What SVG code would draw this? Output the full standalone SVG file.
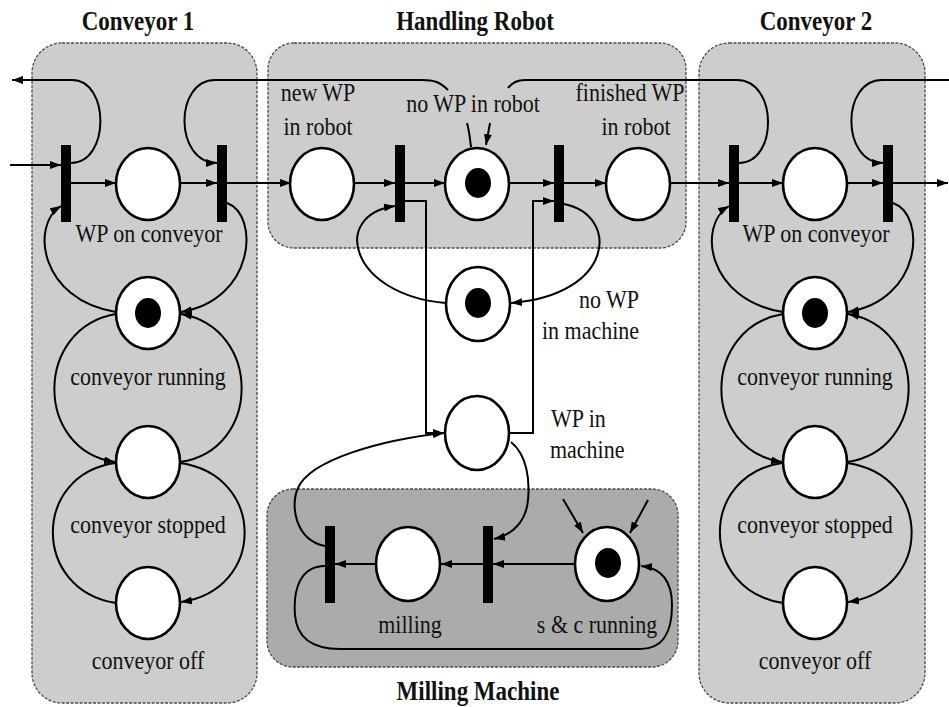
<svg xmlns="http://www.w3.org/2000/svg" width="949" height="707" viewBox="0 0 949 707">
<defs>
<marker id="ah" viewBox="0 0 11 8" refX="11" refY="4" markerWidth="11" markerHeight="8" markerUnits="userSpaceOnUse" orient="auto">
<path d="M0,0 L11,4 L0,8 z" fill="#000"/>
</marker>
<style>
.box{fill:#cdcdcd;stroke:#4a4a4a;stroke-width:1.3;stroke-dasharray:3 1.5}
.mbox{fill:#ababab;stroke:#4a4a4a;stroke-width:1.3;stroke-dasharray:3 1.5}
.pl{fill:#fff;stroke:#000;stroke-width:2.6}
.tok{fill:#000}
.tr{fill:#000}
.arc{fill:none;stroke:#000;stroke-width:2}
.arc.a{marker-end:url(#ah)}
.lbl{font-family:"Liberation Serif","Times New Roman",serif;font-size:22px;fill:#111}
.ttl{font-family:"Liberation Serif","Times New Roman",serif;font-size:23px;font-weight:bold;fill:#111;text-anchor:middle}
.c{text-anchor:middle}
.e{text-anchor:end}
</style>
</defs>
<rect width="949" height="707" fill="#fff"/>

<g id="modules">
<g id="conveyor1-box"><rect class="box" x="32" y="43" width="225" height="660" rx="30"/><text class="ttl" transform="translate(138 30) scale(1 1.15)">Conveyor 1</text></g>
<g id="robot-box"><rect class="box" x="268" y="43" width="418" height="205" rx="26"/><text class="ttl" transform="translate(475 30) scale(1 1.15)">Handling Robot</text></g>
<g id="conveyor2-box"><rect class="box" x="699" y="43" width="226" height="660" rx="30"/><text class="ttl" transform="translate(816 30) scale(1 1.15)">Conveyor 2</text></g>
<g id="milling-box"><rect class="mbox" x="267" y="489" width="411" height="178" rx="26"/><text class="ttl" transform="translate(478 700) scale(1 1.15)">Milling Machine</text></g>
</g>

<g id="connectors">
<!-- Conveyor 1 -->
<path class="arc a" d="M10,165 L61,165"/>
<path class="arc a" d="M71,183 L116,183"/>
<path class="arc a" d="M180,183 L217,183"/>
<path class="arc a" d="M227,183 L291,183"/>
<path class="arc a" d="M71,163 C110,163 110,80 72,80 L12,80"/>
<path class="arc a" d="M448,90 C440,82 434,80 422,80 L215,80 C174,80 174,163 217,163"/>
<path class="arc a" d="M116,312 C40,300 30,225 61,206"/>
<path class="arc a" d="M227,203 C260,215 255,300 181,312"/>
<path class="arc a" d="M116,314 C34,328 34,450 115,462"/>
<path class="arc a" d="M180,462 C262,450 262,328 181,314"/>
<path class="arc" d="M116,603 C32,590 32,475 115,463"/>
<path class="arc a" d="M180,463 C266,475 266,590 181,602"/>
<!-- Robot -->
<path class="arc a" d="M354,183 L395,183"/>
<path class="arc a" d="M405,183 L445,183"/>
<path class="arc a" d="M509,183 L554,183"/>
<path class="arc a" d="M564,183 L606,183"/>
<path class="arc a" d="M405,201 L426,201 L426,433 L444,433"/>
<path class="arc a" d="M510,433 L533,433 L533,201 L554,201"/>
<path class="arc a" d="M446,303 C350,295 330,215 395,206"/>
<path class="arc a" d="M564,204 C620,215 615,295 511,303"/>
<path class="arc" d="M471,147 C470,138 469,130 467,123"/>
<path class="arc a" d="M490,123 L486,145"/>
<!-- Conveyor 2 -->
<path class="arc a" d="M670,183 L729,183"/>
<path class="arc a" d="M739,183 L783,183"/>
<path class="arc a" d="M847,183 L883,183"/>
<path class="arc a" d="M893,183 L948,183"/>
<path class="arc" d="M739,163 C778,163 778,80 737,80 L525,80 C515,80 511,84 508,88"/>
<path class="arc a" d="M949,80 L882,80 C841,80 841,163 883,163"/>
<path class="arc a" d="M783,312 C707,300 697,225 729,206"/>
<path class="arc a" d="M893,203 C927,215 922,300 848,312"/>
<path class="arc a" d="M783,314 C701,328 701,450 782,462"/>
<path class="arc a" d="M847,462 C929,450 929,328 848,314"/>
<path class="arc" d="M783,603 C699,590 699,475 782,463"/>
<path class="arc a" d="M847,463 C933,475 933,590 848,602"/>
<!-- Milling -->
<path class="arc a" d="M575,564 L493,564"/>
<path class="arc a" d="M483,564 L441,564"/>
<path class="arc a" d="M376,564 L335,564"/>
<path class="arc a" d="M511,442 C527,455 530,480 528,500 C526,522 512,535 494,539"/>
<path class="arc a" d="M325,546 C295,540 290,505 298,488 C310,460 380,440 444,433"/>
<path class="arc a" d="M325,566 C300,566 293,590 295,615 C297,640 315,649 340,649 L640,649 C665,649 672,630 672,605 C672,580 660,568 641,566"/>
<path class="arc a" d="M563,499 L583,533"/>
<path class="arc a" d="M648,500 L630,533"/>
</g>

<!-- Conveyor 1 nodes -->
<g id="c1-t-in"><rect class="tr" x="61" y="145" width="10" height="77"/></g>
<g id="c1-wp-on-conveyor"><ellipse class="pl" cx="148" cy="184" rx="32" ry="36"/><text class="lbl c" transform="translate(149 242) scale(1 1.15)">WP on conveyor</text></g>
<g id="c1-t-out"><rect class="tr" x="217" y="145" width="10" height="77"/></g>
<g id="c1-running"><ellipse class="pl" cx="148" cy="313" rx="32" ry="36"/><ellipse class="tok" cx="148" cy="313" rx="13" ry="15"/><text class="lbl c" transform="translate(148 385) scale(1 1.15)">conveyor running</text></g>
<g id="c1-stopped"><ellipse class="pl" cx="148" cy="462" rx="32" ry="36"/><text class="lbl c" transform="translate(148 533) scale(1 1.15)">conveyor stopped</text></g>
<g id="c1-off"><ellipse class="pl" cx="148" cy="603" rx="32" ry="36"/><text class="lbl c" transform="translate(148 669) scale(1 1.15)">conveyor off</text></g>

<!-- Robot nodes -->
<g id="new-wp-in-robot"><ellipse class="pl" cx="322" cy="184" rx="32" ry="36"/><text class="lbl c" transform="translate(318 101) scale(1 1.15)">new WP</text><text class="lbl c" transform="translate(318 135) scale(1 1.15)">in robot</text></g>
<g id="r-t-take"><rect class="tr" x="395" y="145" width="10" height="77"/></g>
<g id="no-wp-in-robot"><ellipse class="pl" cx="477" cy="184" rx="32" ry="36"/><ellipse class="tok" cx="478" cy="183" rx="13" ry="15"/><text class="lbl c" transform="translate(473 112) scale(1 1.15)">no WP in robot</text></g>
<g id="r-t-give"><rect class="tr" x="554" y="145" width="10" height="77"/></g>
<g id="finished-wp-in-robot"><ellipse class="pl" cx="638" cy="184" rx="32" ry="36"/><text class="lbl c" transform="translate(630 101) scale(1 1.15)">finished WP</text><text class="lbl c" transform="translate(636 135) scale(1 1.15)">in robot</text></g>
<g id="no-wp-in-machine"><ellipse class="pl" cx="478" cy="304" rx="32" ry="37"/><ellipse class="tok" cx="478" cy="303" rx="13" ry="15"/><text class="lbl e" transform="translate(639 308) scale(1 1.15)">no WP</text><text class="lbl e" transform="translate(639 339) scale(1 1.15)">in machine</text></g>
<g id="wp-in-machine"><ellipse class="pl" cx="477" cy="433" rx="32" ry="37"/><text class="lbl" transform="translate(551 427) scale(1 1.15)">WP in</text><text class="lbl" transform="translate(550 458) scale(1 1.15)">machine</text></g>

<!-- Milling nodes -->
<g id="m-t-finish"><rect class="tr" x="325" y="526" width="10" height="77"/></g>
<g id="milling"><ellipse class="pl" cx="408" cy="564" rx="32" ry="37"/><text class="lbl c" transform="translate(410 633) scale(1 1.15)">milling</text></g>
<g id="m-t-start"><rect class="tr" x="483" y="526" width="10" height="77"/></g>
<g id="sc-running"><ellipse class="pl" cx="607" cy="564" rx="32" ry="37"/><ellipse class="tok" cx="608" cy="563" rx="13" ry="15"/><text class="lbl c" transform="translate(597 633) scale(1 1.15)">s &amp; c running</text></g>

<!-- Conveyor 2 nodes -->
<g id="c2-t-in"><rect class="tr" x="729" y="145" width="10" height="77"/></g>
<g id="c2-wp-on-conveyor"><ellipse class="pl" cx="815" cy="184" rx="32" ry="36"/><text class="lbl c" transform="translate(816 242) scale(1 1.15)">WP on conveyor</text></g>
<g id="c2-t-out"><rect class="tr" x="883" y="145" width="10" height="77"/></g>
<g id="c2-running"><ellipse class="pl" cx="815" cy="313" rx="32" ry="36"/><ellipse class="tok" cx="815" cy="313" rx="13" ry="15"/><text class="lbl c" transform="translate(815 385) scale(1 1.15)">conveyor running</text></g>
<g id="c2-stopped"><ellipse class="pl" cx="815" cy="462" rx="32" ry="36"/><text class="lbl c" transform="translate(815 533) scale(1 1.15)">conveyor stopped</text></g>
<g id="c2-off"><ellipse class="pl" cx="815" cy="603" rx="32" ry="36"/><text class="lbl c" transform="translate(815 669) scale(1 1.15)">conveyor off</text></g>
</svg>
